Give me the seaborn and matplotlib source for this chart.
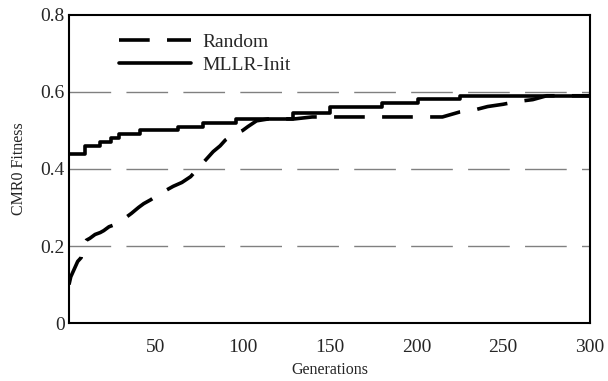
import pandas as pd
import matplotlib
matplotlib.use("Agg")
import matplotlib.pyplot as plt
import seaborn as sns

# Random initialisation run
random_gen = [0, 1, 2, 3, 4, 5, 6, 7, 8, 10, 12, 15, 18, 20, 23, 26, 30, 33, 36, 40, 43,
              47, 52, 56, 60, 65, 70, 74, 78, 83, 87, 90, 95, 100, 103, 108, 115, 130,
              140, 215, 225, 235, 241, 250, 258, 267, 275, 300]
random_fit = [0.10, 0.12, 0.13, 0.14, 0.15, 0.16, 0.165, 0.17, 0.20, 0.215, 0.22, 0.23,
              0.235, 0.24, 0.25, 0.255, 0.265, 0.275, 0.285, 0.30, 0.31, 0.32, 0.335,
              0.345, 0.355, 0.365, 0.38, 0.40, 0.42, 0.445, 0.46, 0.475, 0.49, 0.50,
              0.51, 0.525, 0.53, 0.53, 0.535, 0.535, 0.548, 0.555, 0.562, 0.568, 0.575,
              0.58, 0.59, 0.59]

# MLLR-Init run (step changes)
mllr_gen = [0, 9, 18, 24, 29, 41, 63, 77, 96, 129, 150, 180, 201, 225, 300]
mllr_fit = [0.44, 0.46, 0.47, 0.48, 0.49, 0.50, 0.51, 0.52, 0.53, 0.545, 0.562, 0.57,
            0.582, 0.59, 0.592]

df_rand = pd.DataFrame({"Generations": random_gen, "Fitness": random_fit})
df_mllr = pd.DataFrame({"Generations": mllr_gen, "Fitness": mllr_fit})

sns.set_style("white")
plt.rcParams['font.family'] = ['Liberation Serif', 'DejaVu Serif']

fig = plt.figure(figsize=(6.08, 3.81), dpi=100)
ax = fig.add_axes([0.1135, 0.152, 0.857, 0.809])

# grid lines
for yv in [0.2, 0.4, 0.6]:
    ax.axhline(yv, color='#808080', lw=1.0, dashes=(30, 11), zorder=0)

sns.lineplot(data=df_rand, x="Generations", y="Fitness", ax=ax, color='black',
             lw=2.6, label='Random')
sns.lineplot(data=df_mllr, x="Generations", y="Fitness", ax=ax, color='black',
             lw=2.6, drawstyle='steps-post', label='MLLR-Init')
ax.lines[-2].set_dashes((8.5, 4.8))

ax.set_xlim(0, 300)
ax.set_ylim(0, 0.8)
ax.set_xticks([50, 100, 150, 200, 250, 300])
ax.set_yticks([0, 0.2, 0.4, 0.6, 0.8])
ax.set_yticklabels(['0', '0.2', '0.4', '0.6', '0.8'])
ax.tick_params(axis='x', direction='inout', length=9, width=1.5, labelsize=14, pad=7)
ax.tick_params(axis='y', length=0, labelsize=14, pad=3)
for s in ax.spines.values():
    s.set_color('black')
    s.set_linewidth(1.5)

ax.set_xlabel('Generations', fontsize=11.5, labelpad=4)
ax.set_ylabel('CMR0 Fitness', fontsize=11.5, labelpad=10)

leg = ax.legend(loc='upper left', frameon=False, fontsize=14, handlelength=3.7,
                handletextpad=0.6, borderaxespad=0.3, labelspacing=0.3,
                bbox_to_anchor=(0.07, 0.985))

fig.savefig('out.png', dpi=100)
